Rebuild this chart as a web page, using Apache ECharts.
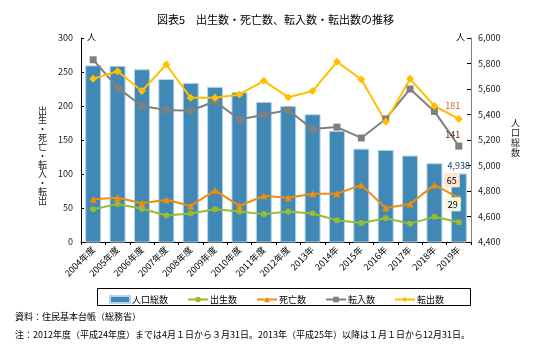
<!DOCTYPE html>
<html><head><meta charset="utf-8">
<script src="https://cdn.jsdelivr.net/npm/echarts@6/dist/echarts.min.js"></script>
<style>html,body{margin:0;padding:0;background:#fff;}#c{width:551px;height:355px;}</style>
</head><body><div id="c"></div>
<script>
var categories = ['2004年度','2005年度','2006年度','2007年度','2008年度','2009年度','2010年度','2011年度','2012年度','2013年','2014年','2015年','2016年','2017年','2018年','2019年'];
var population = [5785,5782,5755,5678,5648,5617,5575,5499,5466,5402,5272,5132,5122,5078,5018,4938];
var births = [48,56,49,39,42,48,45,41,45,42,32,28,35,27,37,29];
var deaths = [63,65,57,62,53,76,53,68,65,71,71,84,50,56,84,65];
var moveIn = [268,227,200,194,193,207,180,187,194,166,169,153,181,225,192,141];
var moveOut = [240,251,222,261,212,212,217,237,213,222,265,239,177,240,200,181];
var leftTicks = [0,300,50];
var rightTicks = [4400,6000,200];

var FONT = '"Noto Sans CJK JP", sans-serif';
function lastLabel(arr, labelOpt) {
  return arr.map(function (v, i) {
    if (i === arr.length - 1) return { value: v, label: Object.assign({ show: true, fontFamily: FONT, fontSize: 9 }, labelOpt) };
    return v;
  });
}

var chart = echarts.init(document.getElementById('c'), null, { renderer: 'canvas' });
chart.setOption({
  animation: false,
  textStyle: { fontFamily: FONT },
  title: {
    text: '図表5　出生数・死亡数、転入数・転出数の推移',
    left: 'center', top: 9,
    textStyle: { fontSize: 11, fontWeight: 'normal', color: '#000', fontFamily: FONT }
  },
  grid: { left: 81, right: 80, top: 38, bottom: 113 },
  legend: {
    top: 290, left: 104,
    itemWidth: 20, itemHeight: 7, itemGap: 19,
    textStyle: { fontSize: 9, color: '#000', fontFamily: FONT, padding: [0, 0, 0, -3] },
    data: [
      { name: '人口総数', icon: 'rect' },
      { name: '出生数' }, { name: '死亡数' }, { name: '転入数' }, { name: '転出数' }
    ]
  },
  xAxis: {
    type: 'category', data: categories, boundaryGap: true,
    axisLine: { lineStyle: { color: '#000', width: 1 } },
    axisTick: { show: true, length: 3, lineStyle: { color: '#000' } },
    axisLabel: { rotate: 45, fontSize: 9, color: '#000', margin: 6, interval: 0, fontFamily: FONT }
  },
  yAxis: [
    {
      type: 'value', min: leftTicks[0], max: leftTicks[1], interval: leftTicks[2],
      axisLine: { show: true, lineStyle: { color: '#000' } },
      axisTick: { show: true, inside: true, length: 3, lineStyle: { color: '#000' } },
      splitLine: { show: false },
      axisLabel: { fontSize: 9, color: '#1a1a1a', margin: 8, fontFamily: FONT }
    },
    {
      type: 'value', min: rightTicks[0], max: rightTicks[1], interval: rightTicks[2],
      position: 'right',
      axisLine: { show: true, lineStyle: { color: '#808080', width: 1 } },
      axisTick: { show: true, inside: true, length: 4, lineStyle: { color: '#000' } },
      splitLine: { show: false },
      axisLabel: { fontSize: 9, color: '#1a1a1a', margin: 7, fontFamily: FONT,
        formatter: function (v) { return v.toLocaleString('en-US'); } }
    }
  ],
  series: [
    {
      name: '人口総数', type: 'bar', yAxisIndex: 1, barWidth: 16,
      itemStyle: { color: '#4088b6', borderColor: '#b9d3e7', borderWidth: 1 },
      data: lastLabel(population, { position: 'top', color: '#1f3f6a', distance: 3,
        formatter: function (p) { return p.value.toLocaleString('en-US'); } })
    },
    {
      name: '出生数', type: 'line', yAxisIndex: 0, symbol: 'circle', symbolSize: 6,
      lineStyle: { color: '#9bbb2f', width: 2 }, itemStyle: { color: '#9bbb2f' },
      data: lastLabel(births, { position: 'top', distance: 8, offset: [-6, 0], color: '#000',
        backgroundColor: '#f1f6de', padding: [3, 3, 2, 3] })
    },
    {
      name: '死亡数', type: 'line', yAxisIndex: 0, symbol: 'triangle', symbolSize: 7,
      lineStyle: { color: '#f28c0f', width: 2 }, itemStyle: { color: '#f28c0f' },
      data: lastLabel(deaths, { position: 'top', distance: 7, offset: [-7, 0], color: '#000',
        backgroundColor: '#fde8cf', padding: [3, 3, 2, 3] })
    },
    {
      name: '転入数', type: 'line', yAxisIndex: 0, symbol: 'rect', symbolSize: 7,
      lineStyle: { color: '#808080', width: 2 }, itemStyle: { color: '#808080' },
      data: lastLabel(moveIn, { position: 'top', distance: 4, offset: [-6, 0], color: '#5a2d1a' })
    },
    {
      name: '転出数', type: 'line', yAxisIndex: 0, symbol: 'diamond', symbolSize: 8,
      lineStyle: { color: '#ffc000', width: 2 }, itemStyle: { color: '#ffc000' },
      data: lastLabel(moveOut, { position: 'top', distance: 5, offset: [-6, 0], color: '#c0703a' })
    }
  ],
  graphic: [
    { type: 'text', left: 87, top: 32, style: { text: '人', fill: '#000', font: '9px ' + FONT } },
    { type: 'text', left: 456, top: 32, style: { text: '人', fill: '#000', font: '9px ' + FONT } },
    { type: 'text', left: 38, top: 106, style: { text: '出\n生\n・\n死\n亡\n・\n転\n入\n・\n転\n出', font: '9px ' + FONT, lineHeight: 9, fill: '#1a1a1a' } },
    { type: 'text', left: 511, top: 118, style: { text: '人\n口\n総\n数', font: '9px ' + FONT, lineHeight: 10, fill: '#1a1a1a' } },
    { type: 'rect', shape: { x: 97.5, y: 288.5, width: 373, height: 17 }, style: { fill: 'none', stroke: '#000', lineWidth: 1 } },
    { type: 'text', left: 15, top: 312, style: { text: '資料：住民基本台帳（総務省）', font: '9px ' + FONT, fill: '#000' } },
    { type: 'text', left: 15, top: 330, style: { text: '注：2012年度（平成24年度）までは4月１日から３月31日。2013年（平成25年）以降は１月１日から12月31日。', font: '9px ' + FONT, fill: '#000' } }
  ]
});
</script>
</body></html>
